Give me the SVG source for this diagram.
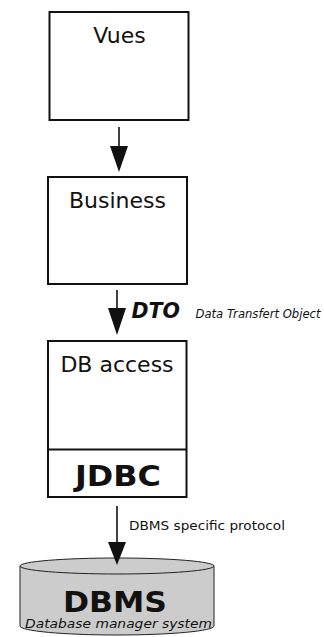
<svg xmlns="http://www.w3.org/2000/svg" width="324" height="637" viewBox="0 0 324 637">
<style>
.box{fill:#fff;stroke:#111;stroke-width:2}
.lbl{font-family:"DejaVu Sans",Verdana,sans-serif;font-size:22px;fill:#111;text-anchor:middle}
.bold{font-family:"DejaVu Sans",Verdana,sans-serif;font-weight:bold;fill:#111}
.small{font-family:"DejaVu Sans",Verdana,sans-serif;fill:#111}
.ln{stroke:#111;stroke-width:1.6;fill:none}
.head{fill:#111}
</style>
<rect width="324" height="637" fill="#fff"/>
<g id="vues">
<rect class="box" x="49.5" y="12" width="139" height="108"/>
<text class="lbl" x="119.5" y="43">Vues</text>
</g>
<g id="business">
<rect class="box" x="48" y="177" width="139" height="107"/>
<text class="lbl" x="117.5" y="208">Business</text>
</g>
<g id="dbaccess">
<rect class="box" x="48" y="341" width="138.5" height="156"/>
<line x1="48" y1="449.5" x2="186.5" y2="449.5" stroke="#111" stroke-width="2"/>
<text class="lbl" x="117" y="372">DB access</text>
<text class="bold" x="118" y="486" font-size="28" text-anchor="middle" textLength="86" lengthAdjust="spacingAndGlyphs">JDBC</text>
</g>
<g id="dbms">
<path d="M20,566 L20,626 A97,9 0 0 0 214,626 L214,566 Z" fill="#cccccc" stroke="#222" stroke-width="1"/>
<ellipse cx="117" cy="566" rx="97" ry="8" fill="#cccccc" stroke="#222" stroke-width="1"/>
<text class="bold" x="115" y="612" font-size="29" text-anchor="middle" textLength="104" lengthAdjust="spacingAndGlyphs">DBMS</text>
<text class="small" x="118.5" y="628" font-size="11.5" font-style="italic" text-anchor="middle" textLength="187" lengthAdjust="spacingAndGlyphs">Database manager system</text>
</g>
<g id="connectors">
<line class="ln" x1="119" y1="127" x2="119" y2="150"/>
<polygon class="head" points="110,146 128,146 119,172"/>
<line class="ln" x1="117" y1="290" x2="117" y2="312"/>
<polygon class="head" points="108,308 126,308 117,335"/>
<line class="ln" x1="117" y1="506" x2="117" y2="545"/>
<polygon class="head" points="108,542 126,542 117,565"/>
<text class="bold" x="131.5" y="318" font-size="20.5" font-style="italic" textLength="48.5" lengthAdjust="spacingAndGlyphs">DTO</text>
<text class="small" x="195.5" y="317.5" font-size="11.5" font-style="italic" textLength="125" lengthAdjust="spacingAndGlyphs">Data Transfert Object</text>
<text class="small" x="129" y="529.5" font-size="12.5" textLength="156" lengthAdjust="spacingAndGlyphs">DBMS specific protocol</text>
</g>
</svg>
